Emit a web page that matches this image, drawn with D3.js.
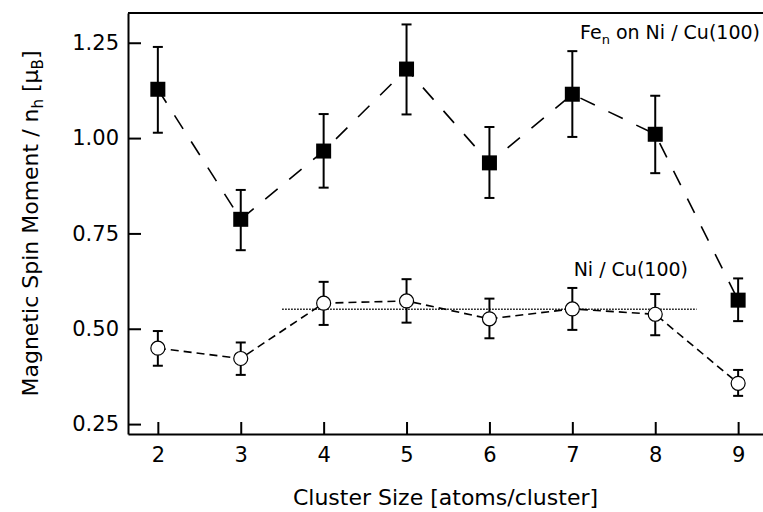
<!DOCTYPE html>
<html>
<head>
<meta charset="utf-8">
<script src="https://cdn.jsdelivr.net/npm/d3@7"></script>
<style>
  body { margin: 0; background: #fff; }
  text { font-family: "DejaVu Sans", "Liberation Sans", Arial, sans-serif; fill: #000; }
</style>
</head>
<body>
<div class="canvas"></div>
<script>
// data
const clusterSizes = [2, 3, 4, 5, 6, 7, 8, 9];
const feMoment = [1.128, 0.787, 0.966, 1.181, 0.935, 1.115, 1.010, 0.575];
const feLow = [1.014, 0.706, 0.870, 1.062, 0.843, 1.003, 0.908, 0.520];
const feHigh = [1.239, 0.864, 1.063, 1.298, 1.029, 1.228, 1.111, 0.632];
const niMoment = [0.449, 0.422, 0.567, 0.573, 0.526, 0.552, 0.538, 0.357];
const niLow = [0.403, 0.379, 0.510, 0.516, 0.475, 0.497, 0.483, 0.324];
const niHigh = [0.494, 0.464, 0.623, 0.630, 0.579, 0.607, 0.591, 0.392];
const niAverage = 0.551;
const niAverageRange = [3.5, 8.5];
const yTicks = [0.25, 0.5, 0.75, 1.0, 1.25];

const margin = { top: 13, right: 0, bottom: 78, left: 128 };
const graphWidth = 763 - margin.left - margin.right;
const graphHeight = 512 - margin.top - margin.bottom;

const svg = d3
  .select(".canvas")
  .append("svg")
  .attr("width", 763)
  .attr("height", 512);

const graph = svg
  .append("g")
  .attr("transform", `translate(${margin.left}, ${margin.top})`);

const x = d3.scaleLinear().domain([1.64, 9.3]).range([0, graphWidth]);
const y = d3.scaleLinear().domain([0.224, 1.328]).range([graphHeight, 0]);

const fe = clusterSizes.map((n, i) => ({ n, v: feMoment[i], lo: feLow[i], hi: feHigh[i] }));
const ni = clusterSizes.map((n, i) => ({ n, v: niMoment[i], lo: niLow[i], hi: niHigh[i] }));

// axes (ticks point inward)
const xAxisGroup = graph
  .append("g")
  .attr("transform", `translate(0, ${graphHeight})`)
  .call(d3.axisBottom(x).tickValues(clusterSizes).tickSizeInner(-12).tickSizeOuter(0).tickPadding(13));

const yAxisGroup = graph
  .append("g")
  .call(d3.axisLeft(y).tickValues(yTicks).tickFormat(d3.format(".2f")).tickSizeInner(-13).tickSizeOuter(0).tickPadding(9));

[xAxisGroup, yAxisGroup].forEach((g) => {
  g.attr("font-family", null).attr("font-size", null);
  g.select(".domain").attr("stroke", "#000").attr("stroke-width", 2);
  g.selectAll(".tick line").attr("stroke", "#000").attr("stroke-width", 2);
  g.selectAll(".tick text").attr("font-size", 21);
});

// top frame line
graph
  .append("line")
  .attr("x1", 0)
  .attr("x2", graphWidth)
  .attr("y1", 0)
  .attr("y2", 0)
  .attr("stroke", "#000")
  .attr("stroke-width", 2);

// average line for Ni
graph
  .append("line")
  .attr("x1", x(niAverageRange[0]))
  .attr("x2", x(niAverageRange[1]))
  .attr("y1", y(niAverage))
  .attr("y2", y(niAverage))
  .attr("stroke", "#000")
  .attr("stroke-width", 1.6)
  .style("stroke-dasharray", "1.5,1.5");

const line = d3
  .line()
  .x((d) => x(d.n))
  .y((d) => y(d.v));

graph
  .append("path")
  .datum(fe)
  .attr("fill", "none")
  .attr("stroke", "#000")
  .attr("stroke-width", 1.6)
  .style("stroke-dasharray", "16,15")
  .attr("d", line);

graph
  .append("path")
  .datum(ni)
  .attr("fill", "none")
  .attr("stroke", "#000")
  .attr("stroke-width", 1.6)
  .style("stroke-dasharray", "8,5")
  .attr("d", line);

// error bars
function errorBars(data, cap) {
  const g = graph.append("g");
  data.forEach((d) => {
    const cx = x(d.n);
    g.append("line").attr("x1", cx).attr("x2", cx).attr("y1", y(d.lo)).attr("y2", y(d.hi));
    g.append("line").attr("x1", cx - cap).attr("x2", cx + cap).attr("y1", y(d.lo)).attr("y2", y(d.lo));
    g.append("line").attr("x1", cx - cap).attr("x2", cx + cap).attr("y1", y(d.hi)).attr("y2", y(d.hi));
  });
  g.selectAll("line").attr("stroke", "#000").attr("stroke-width", 2);
}
errorBars(fe, 5);
errorBars(ni, 5);

// markers
graph
  .selectAll("rect.fe")
  .data(fe)
  .enter()
  .append("rect")
  .attr("class", "fe")
  .attr("x", (d) => x(d.n) - 7.5)
  .attr("y", (d) => y(d.v) - 7.5)
  .attr("width", 15)
  .attr("height", 15)
  .attr("fill", "#000");

graph
  .selectAll("circle.ni")
  .data(ni)
  .enter()
  .append("circle")
  .attr("class", "ni")
  .attr("cx", (d) => x(d.n))
  .attr("cy", (d) => y(d.v))
  .attr("r", 7)
  .attr("fill", "#fff")
  .attr("stroke", "#000")
  .attr("stroke-width", 1.2);

// series labels
const feLabel = svg
  .append("text")
  .attr("x", 760)
  .attr("y", 39)
  .attr("text-anchor", "end")
  .attr("font-size", 19);
feLabel.append("tspan").text("Fe");
feLabel.append("tspan").attr("font-size", 13).attr("dy", 5).text("n");
feLabel.append("tspan").attr("dy", -5).text(" on Ni / Cu(100)");

svg
  .append("text")
  .attr("x", 688)
  .attr("y", 276)
  .attr("text-anchor", "end")
  .attr("font-size", 19)
  .text("Ni / Cu(100)");

// axis titles
svg
  .append("text")
  .attr("x", margin.left + graphWidth / 2)
  .attr("y", 505)
  .attr("text-anchor", "middle")
  .attr("font-size", 22)
  .text("Cluster Size [atoms/cluster]");

const yTitle = svg
  .append("text")
  .attr("transform", `translate(38, ${margin.top + graphHeight / 2}) rotate(-90)`)
  .attr("text-anchor", "middle")
  .attr("font-size", 22);
yTitle.append("tspan").text("Magnetic Spin Moment / n");
yTitle.append("tspan").attr("font-size", 15).attr("dy", 5).text("h");
yTitle.append("tspan").attr("dy", -5).text(" [μ");
yTitle.append("tspan").attr("font-size", 15).attr("dy", 5).text("B");
yTitle.append("tspan").attr("dy", -5).text("]");
</script>
</body>
</html>
